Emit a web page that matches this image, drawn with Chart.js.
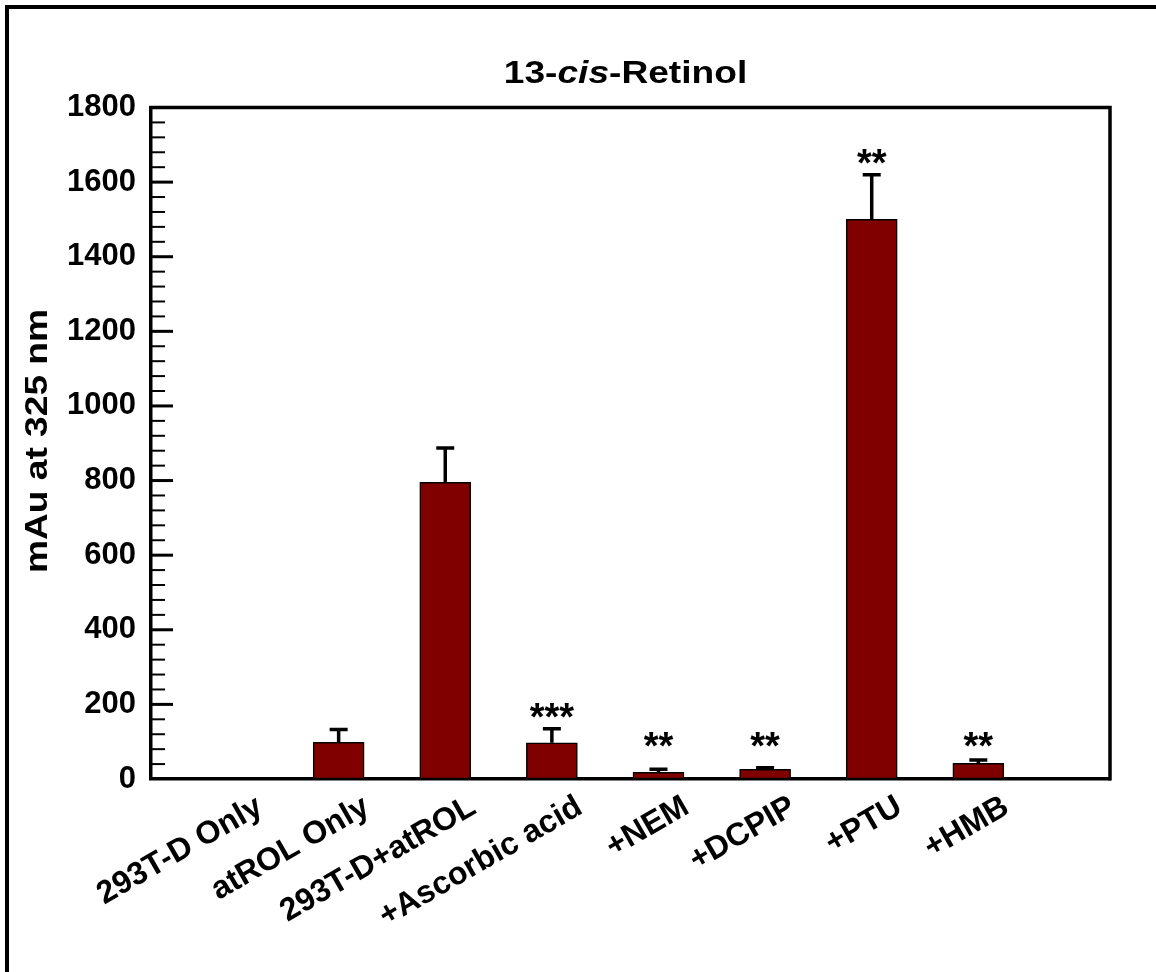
<!DOCTYPE html>
<html>
<head>
<meta charset="utf-8">
<script src="https://cdn.jsdelivr.net/npm/chart.js@4.4.0/dist/chart.umd.min.js"></script>
<style>
html,body{margin:0;padding:0;background:#fff;}
#wrap{position:relative;width:1156px;height:972px;}
</style>
</head>
<body>
<div id="wrap"><canvas id="barChart"></canvas></div>
<script>
var categories=['293T-D Only','atROL Only','293T-D+atROL','+Ascorbic acid','+NEM','+DCPIP','+PTU','+HMB'];
var means=[0,98,795,97,18,26,1500,42];
var errors=[0,35,92,38,8,4,120,9];
var stars=['','','','***','**','**','**','**'];

var FONT='"Liberation Sans", Arial, Helvetica, sans-serif';

var points=[];
for(var i=0;i<categories.length;i++) points.push({x:i+1,y:means[i]});

function stretchedText(ctx,parts,cx,cy,size,sx){
  // parts: [text, italic]
  var w=0;
  for(var k=0;k<parts.length;k++){
    ctx.font=(parts[k][1]?'italic ':'')+'bold '+size+'px '+FONT;
    w+=ctx.measureText(parts[k][0]).width;
  }
  ctx.save();
  ctx.translate(cx,cy);
  ctx.scale(sx,1);
  var x=-w/2;
  ctx.textAlign='left';
  ctx.textBaseline='middle';
  for(var k=0;k<parts.length;k++){
    ctx.font=(parts[k][1]?'italic ':'')+'bold '+size+'px '+FONT;
    ctx.fillText(parts[k][0],x,0);
    x+=ctx.measureText(parts[k][0]).width;
  }
  ctx.restore();
}

var decor={
  id:'decor',
  afterDatasetsDraw:function(chart){
    var ctx=chart.ctx, xs=chart.scales.x, ys=chart.scales.y, a=chart.chartArea;
    ctx.save();
    ctx.strokeStyle='#000';
    ctx.fillStyle='#000';

    // error bars (upper only)
    ctx.lineWidth=3.5;
    for(var i=0;i<means.length;i++){
      if(!errors[i]) continue;
      var px=xs.getPixelForValue(i+1);
      var y0=ys.getPixelForValue(means[i]);
      var y1=ys.getPixelForValue(means[i]+errors[i]);
      ctx.beginPath();
      ctx.moveTo(px,y0); ctx.lineTo(px,y1);
      ctx.moveTo(px-9,y1); ctx.lineTo(px+9,y1);
      ctx.stroke();
    }

    // significance stars
    ctx.font='bold 38px '+FONT;
    ctx.textAlign='center';
    ctx.textBaseline='alphabetic';
    for(var i=0;i<stars.length;i++){
      if(!stars[i]) continue;
      var px=xs.getPixelForValue(i+1);
      var top=ys.getPixelForValue(means[i]+errors[i]);
      var c=Math.min(top-18, ys.getPixelForValue(100)-2);
      ctx.fillText(stars[i],px,c+19);
    }

    // inward ticks on y axis
    for(var v=40;v<1800;v+=40){
      var yy=ys.getPixelForValue(v);
      var major=(v%200===0);
      ctx.lineWidth=major?3:2;
      ctx.beginPath();
      ctx.moveTo(a.left,yy);
      ctx.lineTo(a.left+(major?22:14),yy);
      ctx.stroke();
    }

    // top and right of plot box
    ctx.lineWidth=3.5;
    ctx.beginPath();
    ctx.moveTo(a.left-1.5,a.top);
    ctx.lineTo(a.right,a.top);
    ctx.lineTo(a.right,a.bottom+1.5);
    ctx.stroke();

    // outer frame (top and left only)
    ctx.lineWidth=4;
    ctx.beginPath();
    ctx.moveTo(7,972);
    ctx.lineTo(7,7);
    ctx.lineTo(1156,7);
    ctx.stroke();

    // titles
    stretchedText(ctx,[['13-',false],['cis',true],['-Retinol',false]],(a.left+a.right)/2-5,74,32,1.16);
    ctx.save();
    ctx.translate(38,441);
    ctx.rotate(-Math.PI/2);
    stretchedText(ctx,[['mAu at 325 nm',false]],0,0,32,1.16);
    ctx.restore();

    ctx.restore();
  }
};

new Chart(document.getElementById('barChart'),{
  type:'bar',
  data:{
    datasets:[{
      data:points,
      backgroundColor:'#800000',
      borderColor:'#000',
      borderWidth:1.5,
      borderSkipped:false,
      barThickness:51
    }]
  },
  options:{
    responsive:true,
    maintainAspectRatio:false,
    animation:false,
    layout:{padding:{left:0,right:46,top:107.5,bottom:0}},
    plugins:{legend:{display:false},tooltip:{enabled:false},title:{display:false}},
    scales:{
      x:{
        type:'linear',
        offset:false,
        min:0.24,
        max:9.235,
        grid:{display:false,drawTicks:false,offset:false},
        border:{display:true,color:'#000',width:3.5},
        afterFit:function(s){s.height=193;},
        afterBuildTicks:function(s){
          s.ticks=categories.map(function(c,i){return {value:i+1};});
        },
        ticks:{
          autoSkip:false,
          minRotation:30,
          maxRotation:30,
          padding:9,
          labelOffset:28,
          color:'#000',
          font:{family:FONT,size:32,weight:'bold'},
          callback:function(v){return categories[v-1]||'';}
        }
      },
      y:{
        min:0,
        max:1800,
        grid:{display:false,drawTicks:false},
        border:{display:true,color:'#000',width:3.5},
        afterFit:function(s){s.width=151;},
        ticks:{
          stepSize:200,
          padding:15,
          color:'#000',
          font:{family:FONT,size:31,weight:'bold'},
          callback:function(v){return String(v);}
        }
      }
    }
  },
  plugins:[decor]
});
</script>
</body>
</html>
